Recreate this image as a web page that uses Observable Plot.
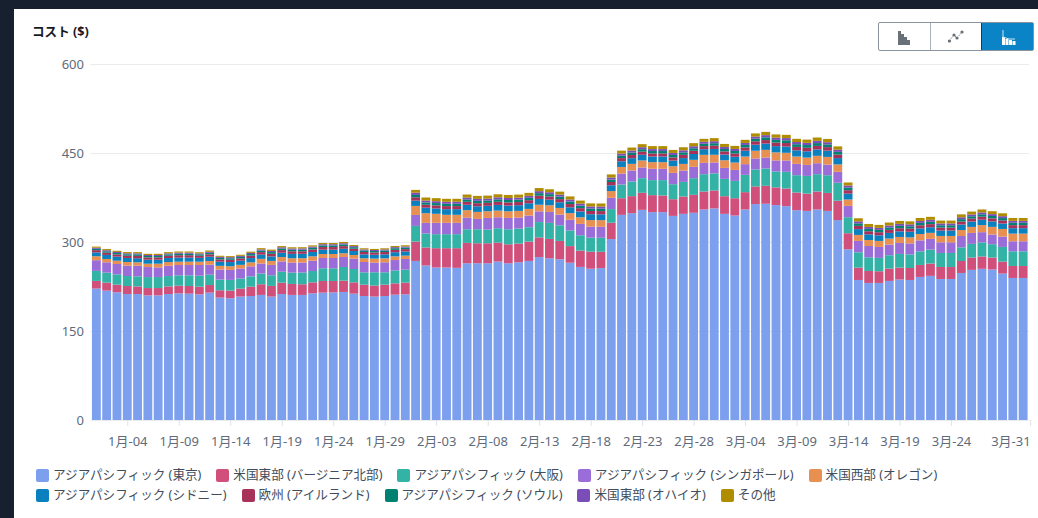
<!DOCTYPE html>
<html lang="ja">
<head>
<meta charset="utf-8">
<script src="https://cdn.jsdelivr.net/npm/d3@7"></script>
<script src="https://cdn.jsdelivr.net/npm/@observablehq/plot@0.6"></script>
<style>
html,body{margin:0;padding:0;width:1038px;height:518px;overflow:hidden;background:#16202f;font-family:"Noto Sans","Noto Sans CJK JP",sans-serif;}
#card{position:absolute;left:14px;top:9px;width:1024px;height:509px;background:#fff;}
#title{position:absolute;left:18px;top:14px;font-size:12.6px;font-weight:700;color:#16191f;line-height:18px;white-space:nowrap;}
#chart{position:absolute;left:0;top:0;}
#chart svg{display:block;}
#btns{position:absolute;left:864px;top:13px;width:154px;height:27px;border:1px solid #8a949f;border-radius:2px;display:flex;box-sizing:content-box;}
#btns div{flex:1;display:flex;align-items:center;justify-content:center;}
#btns div+div{border-left:1px solid #a9b1ba;}
#btns div.on{background:#0a84c6;border-left-color:#16404f;}
#legend{position:absolute;left:22px;top:456px;width:1000px;font-size:12.6px;color:#414d5c;line-height:20px;}
.row{display:flex;height:20px;white-space:nowrap;}
.item{display:flex;align-items:center;margin-right:15px;}
.sw{width:13px;height:13px;border-radius:2px;margin-right:4px;flex:none;}
</style>
</head>
<body>
<div id="card">
  <div id="chart"></div>
  <div id="title">コスト ($)</div>
  <div id="btns">
    <div><svg width="16" height="16"><g fill="#687078"><rect x="2" y="2" width="3" height="14"/><rect x="5" y="5" width="3" height="11"/><rect x="8" y="8" width="3" height="8"/><rect x="11" y="11" width="3" height="5"/></g></svg></div>
    <div><svg width="16" height="16"><polyline points="1,12 6,6 9,9 14,3" fill="none" stroke="#687078" stroke-dasharray="1.5 1.5"/><g fill="#687078"><circle cx="1.5" cy="12" r="1.6"/><circle cx="6" cy="6" r="1.6"/><circle cx="9" cy="9" r="1.6"/><circle cx="14" cy="3" r="1.6"/></g></svg></div>
    <div class="on"><svg width="16" height="16"><g fill="#fff"><rect x="2" y="8" width="3" height="8"/><rect x="5.5" y="10" width="3" height="6"/><rect x="9" y="11" width="3" height="5"/><rect x="12.5" y="12" width="3" height="4"/></g><path d="M3 1V8L9 10H15" fill="none" stroke="#cde6f5"/></svg></div>
  </div>
  <div id="legend"></div>
</div>
<script>
const months = [["1月", 31], ["2月", 29], ["3月", 31]];
const days = months.flatMap(([m, n]) => d3.range(1, n + 1).map(d => `${m}-${String(d).padStart(2, "0")}`));
const xTicks = ["1月-04","1月-09","1月-14","1月-19","1月-24","1月-29","2月-03","2月-08","2月-13","2月-18","2月-23","2月-28","3月-04","3月-09","3月-14","3月-19","3月-24"];
const lastTick = ["3月-31"];
const yTicks = [0, 150, 300, 450, 600];

const regions = ["アジアパシフィック (東京)","米国東部 (バージニア北部)","アジアパシフィック (大阪)","アジアパシフィック (シンガポール)","米国西部 (オレゴン)","アジアパシフィック (シドニー)","欧州 (アイルランド)","アジアパシフィック (ソウル)","米国東部 (オハイオ)","その他"];
const colors = ["#7c9fee","#d0507b","#33b3a6","#9b6dd9","#e88f52","#0a80bf","#a83159","#008172","#7a4db8","#b08c00"];

const tokyo = [221.5,218,215.2,212.3,212.3,210,210,212.3,213.5,212.9,211.8,214.6,206.3,205.2,208,
209,210.8,208,212.3,210.8,210.8,213.5,214.6,215.2,215.8,212.9,209,208,209,211.2,211.8,
268.1,260.4,257,257,256.4,264.2,264.2,264.2,267,264.2,265.9,268.1,274.5,272.6,270.9,265,258,255,256,305,
345.7,348.6,354.2,350.3,350.3,344,347.4,349.2,354.8,356.6,347.4,344.6,354.8,363.9,364.4,362.2,360.4,353.6,352.4,354.8,352.4,337,
287.8,236,231,231,234.4,236.7,236,241.1,242.9,237.7,237.7,247.8,253,254.8,253.6,246.8,239.4,239.4];
const virginia = [12.9,13.5,12.9,13.5,12.9,12.4,12.4,12.9,12.9,12.9,12.9,12.9,12.4,12.9,13.5,
15.7,18,18,19.1,18.5,18,18.5,19.7,19.1,19.1,19.1,19.1,18.5,19.1,19.1,19.7,
32.6,30.3,32.6,32.6,33.2,34.3,33.7,33.7,32,32,31.5,32.6,33.2,32.6,30.9,28.1,27.5,28.7,27.5,27.5,
28.1,28.7,28.7,28.7,28.1,28.1,29.2,30.3,30.3,30.3,29.8,29.2,29.2,29.8,30.3,29.8,29.8,29.8,29.2,30.3,30.3,32.6,
27,20.8,20.2,19.7,20.8,20.2,20.2,20.2,20.8,20.2,20.2,20.2,20.8,20.8,20.2,20.2,20.2,20.2];
const osaka = [16.9,16.9,17.4,16.9,16.9,18.5,18.5,17.4,17.4,18,18.5,17.4,18,18,16.9,
17.4,18,18,18.5,19.1,19.7,19.1,21.4,21.4,23,22.5,20.8,22.5,20.8,21.9,21.9,
26.4,23.6,23.6,23.6,23.6,23,23.6,23,24.2,25.3,25.3,24.2,25.9,27,26.4,26.4,25.9,23.6,23.6,23,
23,24.7,24.7,25.3,25.9,25.3,24.7,28.1,29.2,28.7,29.2,29.2,29.2,28.7,29.2,27,28.1,29.2,29.8,29.2,29.8,30.3,
27,25.9,23,22.5,22.5,23,23,23,23.6,23.6,23.6,23,23,23.6,22.5,24.7,24.7,24.7];
const singapore = [18,17.4,17.4,17.4,18,16.9,16.3,17.4,17.4,17.4,18,16.9,16.9,16.9,16.9,
16.9,16.9,17.4,17.4,16.9,16.9,17.4,17.4,17.4,16.9,17.4,17.4,16.3,16.9,17.4,18,
18.5,18,19.1,19.1,19.1,19.7,17.4,19.7,18.5,19.1,18.5,19.7,18,18.5,18,18,19.1,18.5,18.5,19.1,
18.5,18.5,18,19.1,19.1,19.1,19.1,19.1,19.1,18.5,18.5,18.5,18,18.5,18.5,18.5,19.1,19.1,18.5,18.5,18,18.5,
19.1,19.1,19.1,18.5,18,18.5,18.5,18.5,18,18,18,19.1,18.5,17.4,16.3,17.4,16.9,16.9];
const oregon = [6.7,5.6,5.6,6.2,5.6,5.6,6.2,6.2,5.6,5.6,5.6,6.2,6.2,6.2,6.2,
6.7,7.9,6.7,7.3,7.3,7.3,7.3,6.7,6.7,6.2,6.2,6.2,6.7,6.7,6.2,5.6,
15.2,16.3,15.2,13.5,13.5,12.4,11.8,11.2,11.2,11.2,11.2,11.2,11.2,11.2,11.2,11.2,11.2,11.2,11.2,11.2,
11.2,11.2,11.8,11.2,11.2,11.2,11.2,11.8,13.5,12.9,12.9,12.4,12.9,12.9,12.9,13.5,12.9,12.4,12.4,12.4,12.9,12.4,
10.7,10.1,10.1,10.1,10.1,10.1,10.1,10.7,10.1,10.7,10.7,10.1,10.1,11.8,12.9,12.9,12.9,12.9];
const sydney = [6.5,6.8,6.8,6.8,7,6.8,6.8,6.8,7,7,6.5,7.2,7,7,7,
7.2,7.2,7.6,7.4,7.4,7.4,7.4,7.4,7.4,7.6,6.7,6.7,6.5,6.7,7,7,
9,9.2,9.2,9.5,9.5,9.2,9.5,9.2,9.6,9.6,9.6,9.5,9.8,9.5,9.6,9.8,9.8,9.8,9.8,9.8,
9.6,9.6,9.6,9.5,9.5,9.6,9.8,9.8,9.5,9.8,9.6,9.8,9.8,10.2,10.6,10.6,10.6,10.4,10.6,10.8,10.6,10.6,
10,9.8,9.5,9.5,9.5,9.5,9.5,9.5,9.5,9.1,9.1,9.2,9.1,9.2,9.2,9.2,9.2,9.2];
const ireland = [3.8,3.8,3.8,3.8,3.9,3.8,3.8,3.8,3.9,3.9,3.6,4,3.9,3.9,3.9,
4.1,4.1,4.4,4.3,4.3,4.3,4.3,4.3,4.3,4.4,3.9,3.9,3.8,3.9,4,4,
5.6,5,5,5.2,5.2,5,5.2,5,5.3,5.3,5.3,5.2,5.5,5.2,5.3,5.5,5.5,5.5,5.5,5.5,
5.3,5.3,5.3,5.2,5.2,5.3,5.5,5.5,5.2,5.5,5.3,5.5,5.5,5.7,5.9,5.9,5.9,5.8,5.9,6,5.9,5.9,
5.7,5.5,5.2,5.2,5.2,5.2,5.2,5.2,5.2,5,5,5.1,5,5.1,5.1,5.1,5.1,5.1];
const seoul = [2.3,2.4,2.4,2.4,2.5,2.4,2.4,2.4,2.5,2.5,2.3,2.6,2.5,2.5,2.5,
2.7,2.7,2.9,2.8,2.8,2.8,2.8,2.8,2.8,2.9,2.6,2.6,2.5,2.6,2.7,2.7,
3.9,3.9,3.9,4,4,3.9,4,3.9,4.1,4.1,4.1,4,4.2,4,4.1,4.2,4.2,4.2,4.2,4.2,
4.1,4.1,4.1,4,4,4.1,4.2,4.2,4,4.2,4.1,4.2,4.2,4.4,4.6,4.6,4.6,4.5,4.6,4.7,4.6,4.6,
4.4,4.2,4,4,4,4,4,4,4,3.9,3.9,4,3.9,4,4,4,4,4];
const ohio = [1.7,1.7,1.7,1.7,1.8,1.7,1.7,1.7,1.8,1.8,1.6,1.8,1.8,1.8,1.8,
1.9,1.9,2,2,2,2,2,2,2,2,1.8,1.8,1.7,1.8,1.8,1.8,
3.8,3.2,3.2,3.3,3.3,3.2,3.3,3.2,3.4,3.4,3.4,3.3,3.4,3.3,3.4,3.4,3.4,3.4,3.4,3.4,
3.4,3.4,3.4,3.3,3.3,3.4,3.4,3.4,3.3,3.4,3.4,3.4,3.4,3.6,3.7,3.7,3.7,3.7,3.7,3.8,3.7,3.7,
3.5,3.4,3.3,3.3,3.3,3.3,3.3,3.3,3.3,3.1,3.1,3.2,3.1,3.2,3.2,3.2,3.2,3.2];
const other = [1.9,2,2,2,2,2,2,2,2,2,1.9,2,1.8,1.8,1.8,
2.1,2.1,2.2,2,2,2,2,2,2,2.2,1.8,1.9,1.8,1.9,2,2,
4.7,5.1,5.1,5,5,5.1,5,5.1,5.1,5.1,5.1,5,5.2,5,5.1,5.2,5.2,5.2,5.2,5.2,
5.1,5.1,5.1,5,5,5.1,5.2,5.2,5,5.2,5.1,5.2,5.2,5.3,5.5,5.5,5.5,5.4,5.5,5.6,5.5,5.5,
5.1,5.2,5,5,5,5,5,5,5,4.8,4.8,4.9,4.8,4.9,4.9,4.9,4.9,4.9];

const series = [tokyo, virginia, osaka, singapore, oregon, sydney, ireland, seoul, ohio, other];
const rows = series.flatMap((vals, s) => vals.map((v, i) => ({day: days[i], value: v, region: regions[s]})));

const axisText = {fontSize: 13, fill: "#5f6b7a", fontFamily: '"Noto Sans","Noto Sans CJK JP",sans-serif'};
const plot = Plot.plot({
  width: 1024,
  height: 442,
  marginLeft: 76.5,
  marginRight: 9,
  marginTop: 55,
  marginBottom: 31,
  style: {background: "transparent", overflow: "visible"},
  x: {type: "band", domain: days, padding: 0.14, round: false, axis: null},
  y: {domain: [0, 600], axis: null},
  color: {domain: regions, range: colors},
  marks: [
    Plot.ruleY(yTicks, {stroke: "#e9ebed", strokeWidth: 1.2}),
    Plot.barY(rows, {x: "day", y: "value", fill: "region", order: regions}),
    Plot.axisY({ticks: yTicks, tickSize: 0, tickPadding: 7, label: null, ...axisText}),
    Plot.axisX({ticks: xTicks, tickSize: 6, tickPadding: 10, label: null, ...axisText, stroke: "#dfe3e6"}),
    Plot.axisX({ticks: lastTick, tickSize: 6, tickPadding: 10, label: null, textAnchor: "end", dx: 7, ...axisText, stroke: "#dfe3e6"})
  ]
});
document.getElementById("chart").appendChild(plot);

const legend = document.getElementById("legend");
[regions.slice(0, 5), regions.slice(5)].forEach((names) => {
  const row = document.createElement("div");
  row.className = "row";
  names.forEach((name) => {
    const item = document.createElement("div");
    item.className = "item";
    const sw = document.createElement("span");
    sw.className = "sw";
    sw.style.background = colors[regions.indexOf(name)];
    const tx = document.createElement("span");
    tx.textContent = name;
    item.append(sw, tx);
    row.append(item);
  });
  legend.append(row);
});
</script>
</body>
</html>
